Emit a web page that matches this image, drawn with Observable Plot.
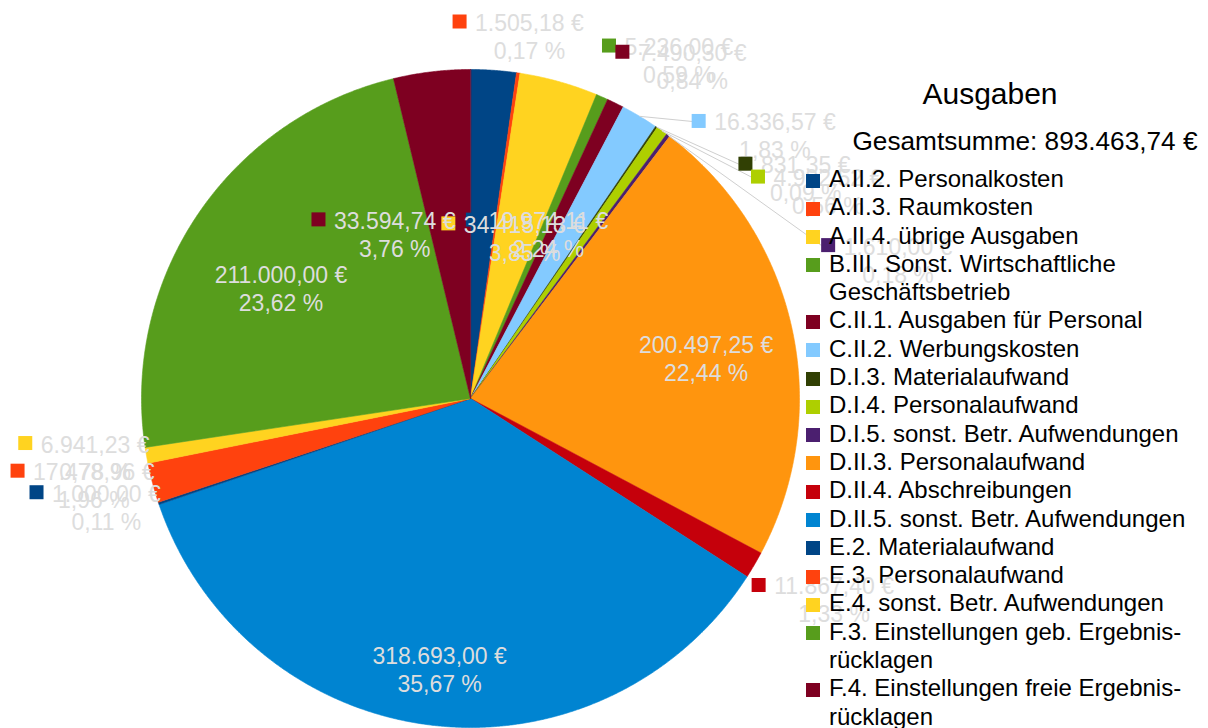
<!DOCTYPE html>
<html>
<head>
<meta charset="utf-8">
<script src="https://cdn.jsdelivr.net/npm/d3@7"></script>
<script src="https://cdn.jsdelivr.net/npm/@observablehq/plot@0.6"></script>
<style>
  html, body { margin: 0; padding: 0; background: #ffffff; }
  body { font-family: "Liberation Sans", Arial, sans-serif; }
  #wrap { position: relative; width: 1208px; height: 728px; overflow: hidden; background: #fff; }
  #wrap svg { position: absolute; left: 0; top: 0; }
  .title { position: absolute; left: 840px; width: 300px; top: 79px; text-align: center;
           font-size: 30px; line-height: 30px; color: #000; white-space: nowrap; }
  .total { position: absolute; left: 825px; width: 400px; top: 128px; text-align: center;
           font-size: 26.2px; line-height: 26px; color: #000; white-space: nowrap; }
  .legend { position: absolute; left: 806px; top: 165px; width: 402px;
            font-size: 24px; line-height: 28.3px; color: #000; }
  .item { display: flex; align-items: flex-start; }
  .sw { width: 14px; height: 14px; flex: none; margin-top: 8.5px; margin-right: 9px; }
  .txt { width: 376px; }
</style>
</head>
<body>
<div id="wrap"></div>
<script>
// ---------------- data ----------------
const title = "Ausgaben";
const categories = [
  "A.II.2. Personalkosten",
  "A.II.3. Raumkosten",
  "A.II.4. übrige Ausgaben",
  "B.III. Sonst. Wirtschaftliche Geschäftsbetrieb",
  "C.II.1. Ausgaben für Personal",
  "C.II.2. Werbungskosten",
  "D.I.3. Materialaufwand",
  "D.I.4. Personalaufwand",
  "D.I.5. sonst. Betr. Aufwendungen",
  "D.II.3. Personalaufwand",
  "D.II.4. Abschreibungen",
  "D.II.5. sonst. Betr. Aufwendungen",
  "E.2. Materialaufwand",
  "E.3. Personalaufwand",
  "E.4. sonst. Betr. Aufwendungen",
  "F.3. Einstellungen geb. Ergebnis\u00ADrücklagen",
  "F.4. Einstellungen freie Ergebnis\u00ADrücklagen"
];
const values = [
  19974.11, 1505.18, 34415.13, 5236.00, 7490.30, 16336.57, 831.35, 4992.52, 1610.00,
  200497.25, 11867.40, 318693.00, 1000.00, 17478.96, 6941.23, 211000.00, 33594.74
];
const colors = [
  "#004586", "#ff420e", "#ffd320", "#579d1c", "#7e0021", "#83caff", "#314004", "#aecf00",
  "#4b1f6f", "#ff950e", "#c5000b", "#0084d1", "#004586", "#ff420e", "#ffd320", "#579d1c", "#7e0021"
];

// ---------------- layout (styling only) ----------------
const W = 1208, H = 728, CX = 470, CY = 398, R = 329;
const LABEL_FS = 23, LINE = 28, SQ = 14, GAP = 8, HALF_H = 36;
const labelLayout = {
  "A.II.2.": {type: "in", r: 0.51, nudge: [55, 3]},
  "A.II.4.": {type: "in", r: 0.51, nudge: [-2, 1]},
  "F.4.":    {type: "in", r: 0.51, nudge: [-67, 2]},
  "F.3.":    {type: "big", r: 0.665, nudge: [-8, 12]},
  "D.II.3.": {type: "big", r: 0.73, nudge: [1, 11]},
  "D.II.5.": {type: "big", r: 0.82, nudge: [2, 3]},
  "C.II.2.": {nudge: [52, 56], leader: true},
  "D.I.3.":  {nudge: [82, 88], leader: true},
  "D.I.4.":  {nudge: [89, 97], leader: true},
  "D.I.5.":  {nudge: [153, 161], leader: true},
  "E.2.":    {nudge: [3, 3]},
  "E.3.":    {nudge: [3, 2]},
  "E.4.":    {nudge: [4, 2]},
  "D.II.4.": {nudge: [-3, -2]}
};

// ---------------- helpers ----------------
const loc = d3.formatLocale({decimal: ",", thousands: ".", grouping: [3], currency: ["", "€"]});
const fmtMoney = v => loc.format(",.2f")(v) + " €";
const total = d3.sum(values);
const fmtPct = v => loc.format(".2f")(v / total * 100) + " %";
const toUx = px => (px - CX) / R;
const toUy = py => (CY - py) / R;

const arcs = d3.pie().sort(null).value(d => d)(values);
const slices = arcs.map((a, i) => ({
  cat: categories[i],
  code: categories[i].split(" ")[0],
  value: values[i],
  color: colors[i],
  a0: a.startAngle, a1: a.endAngle,
  mid: (a.startAngle + a.endAngle) / 2
}));

function slicePoints(s) {
  const pts = [{x: 0, y: 0}];
  const n = Math.max(2, Math.ceil((s.a1 - s.a0) / (Math.PI / 720)));
  for (let k = 0; k <= n; k++) {
    const a = s.a0 + (s.a1 - s.a0) * k / n;
    pts.push({x: Math.sin(a), y: Math.cos(a)});
  }
  return pts;
}

const ctx = document.createElement("canvas").getContext("2d");
ctx.font = `${LABEL_FS}px "Liberation Sans"`;

const labels = slices.map(s => {
  const lay = labelLayout[s.code] || {};
  const l1 = fmtMoney(s.value), l2 = fmtPct(s.value);
  const w1 = ctx.measureText(l1).width;
  const hasSq = lay.type !== "big";
  const bw = hasSq ? SQ + GAP + w1 : w1;
  const sn = Math.sin(s.mid), cs = Math.cos(s.mid);
  let cx, cy;
  if (lay.type === "big" || lay.type === "in") {
    cx = CX + sn * lay.r * R;
    cy = CY - cs * lay.r * R;
  } else {
    const k = Math.round(s.mid / (Math.PI / 4)) % 8;
    const sx = Math.round(Math.sin(k * Math.PI / 4));
    const sy = -Math.round(Math.cos(k * Math.PI / 4));
    const px = CX + sn * (R + 1), py = CY - cs * (R + 1);
    cx = px + sx * bw / 2;
    cy = py + sy * HALF_H;
  }
  if (lay.nudge) { cx += lay.nudge[0]; cy += lay.nudge[1]; }
  const left = cx - bw / 2;
  const line1Y = cy - LINE / 2;
  return {
    ...s, l1, l2, hasSq, left, cy, line1Y,
    textX: hasSq ? left + SQ + GAP + w1 / 2 : cx,
    leader: !!lay.leader,
    edgeX: CX + sn * R, edgeY: CY - cs * R
  };
});

// ---------------- marks ----------------
const marks = [];
slices.forEach(s => {
  marks.push(Plot.line(slicePoints(s), {
    x: "x", y: "y", curve: "linear-closed",
    fill: s.color, stroke: s.color, strokeWidth: 0.6
  }));
});
marks.push(Plot.link(labels.filter(d => d.leader), {
  x1: d => toUx(d.edgeX), y1: d => toUy(d.edgeY),
  x2: d => toUx(d.left), y2: d => toUy(d.line1Y),
  stroke: "#cfcfcf", strokeWidth: 1
}));
labels.forEach(d => {
  if (d.hasSq) {
    marks.push(Plot.rect([d], {
      x1: e => toUx(e.left), x2: e => toUx(e.left + SQ),
      y1: e => toUy(e.line1Y - SQ / 2), y2: e => toUy(e.line1Y + SQ / 2),
      fill: d.color
    }));
  }
  marks.push(Plot.text([d], {
    x: e => toUx(e.textX), y: e => toUy(e.cy),
    text: e => e.l1 + "\n" + e.l2,
    fill: "#dddddd", fontSize: LABEL_FS, lineHeight: LINE / LABEL_FS,
    textAnchor: "middle", fontFamily: "Liberation Sans"
  }));
});

const chart = Plot.plot({
  width: W, height: H, margin: 0,
  x: {domain: [toUx(0), toUx(W)], range: [0, W], axis: null},
  y: {domain: [toUy(H), toUy(0)], range: [H, 0], axis: null},
  style: {background: "transparent", fontFamily: "Liberation Sans", overflow: "visible"},
  marks
});

const wrap = document.getElementById("wrap");
wrap.append(chart);

const t = document.createElement("div");
t.className = "title"; t.textContent = title;
wrap.append(t);
const tot = document.createElement("div");
tot.className = "total"; tot.textContent = "Gesamtsumme: " + fmtMoney(total);
wrap.append(tot);

const lg = document.createElement("div");
lg.className = "legend";
categories.forEach((c, i) => {
  const it = document.createElement("div"); it.className = "item";
  const sw = document.createElement("div"); sw.className = "sw"; sw.style.background = colors[i];
  const tx = document.createElement("div"); tx.className = "txt"; tx.textContent = c;
  it.append(sw, tx); lg.append(it);
});
wrap.append(lg);
</script>
</body>
</html>
